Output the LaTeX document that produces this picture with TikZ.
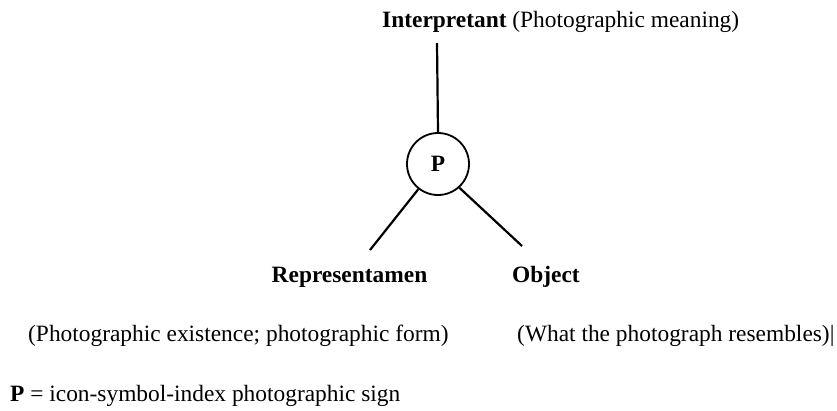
\documentclass[tikz,border=0pt]{standalone}
\usepackage{fontspec}
\setmainfont{Liberation Serif}
\begin{document}
\begin{tikzpicture}[x=1pt,y=-1pt,
  lbl/.style={inner sep=0pt,font=\fontsize{23.4}{26}\selectfont},
  blbl/.style={inner sep=0pt,font=\fontsize{23.4}{26}\selectfont\bfseries},
  conn/.style={line width=2.2pt}]
\useasboundingbox (0,0) rectangle (837,410);
\node[lbl,anchor=base west] (interp) at (382,27) {\textbf{Interpretant} (Photographic meaning)};
\coordinate (top) at (437,43);
\node[draw,circle,line width=1.8pt,minimum size=62pt,inner sep=0pt,font=\fontsize{23.4}{26}\selectfont\bfseries] (p) at (438,164) {P};
\coordinate (lend) at (370,250);
\coordinate (rend) at (522,246);
\draw[conn] (top) -- (p.north);
\draw[conn] (p.-128) -- (lend);
\draw[conn] (p.-48) -- (rend);
\node[blbl,anchor=base] (rep) at (349.5,282) {Representamen};
\node[blbl,anchor=base west] (obj) at (512,282) {Object};
\node[lbl,anchor=base west] (repd) at (28,341) {(Photographic existence; photographic form)};
\node[lbl,anchor=base west] (objd) at (517,341) {(What the photograph resembles)|};
\node[lbl,anchor=base west] (key) at (10,401) {\textbf{P} = icon-symbol-index photographic sign};
\end{tikzpicture}
\end{document}
